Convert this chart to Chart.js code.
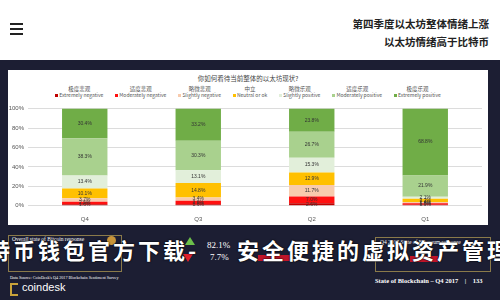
<!DOCTYPE html>
<html>
<head>
<meta charset="utf-8">
<script src="https://cdn.jsdelivr.net/npm/chart.js@4.4.1/dist/chart.umd.min.js"></script>
<style>
  html, body { margin: 0; padding: 0; }
  body {
    width: 500px; height: 300px; overflow: hidden; position: relative;
    background: #1c1e33; font-family: "Noto Sans CJK SC", "Liberation Sans", sans-serif;
  }
  .topbar { position: absolute; left: 0; top: 0; width: 500px; height: 60px; background: #fff; }
  .burger { position: absolute; left: 10px; top: 23px; width: 13px; }
  .burger div { height: 2px; background: #222; margin-bottom: 3px; }
  .headline {
    position: absolute; right: 11px; top: 15px; text-align: right;
    font-size: 10.5px; font-weight: 700; line-height: 18px; color: #222;
  }
  .panel { position: absolute; left: 8px; top: 70px; width: 480px; height: 155px; background: #fff; }
  .ctitle { position: absolute; left: 0; width: 480px; top: 3px; text-align: center; font-size: 6.5px; color: #444; }
  .legend { position: absolute; left: 0; width: 480px; top: 16px; display: flex; justify-content: center; gap: 12px; }
  .legend .item { text-align: center; font-size: 5px; color: #555; line-height: 6px; }
  .legend .cn { font-size: 5.5px; }
  .legend .sw { display: inline-block; width: 3px; height: 3px; margin-right: 1px; vertical-align: middle; }
  #chartBox { position: absolute; left: 8px; top: 101px; width: 480px; height: 124px; }
  .serif { font-family: "Liberation Serif", "DejaVu Serif", serif; color: #fff; position: absolute; }
  .box { position: absolute; border: 1px solid #8a7a4a; }
  .overlay {
    position: absolute; top: 233px; color: #fff; font-size: 22px; font-weight: 700;
    letter-spacing: 3px; white-space: nowrap; text-shadow: 0 0 2px #000, 0 0 1px #000;
  }
</style>
</head>
<body>
<div class="topbar">
  <div class="burger"><div></div><div></div><div></div></div>
  <div class="headline">第四季度以太坊整体情绪上涨<br>以太坊情绪高于比特币</div>
</div>

<div class="panel">
  <div class="ctitle">你如何看待当前整体的以太坊现状?</div>
  <div class="legend" id="legend"></div>
</div>
<div id="chartBox"><canvas id="chart"></canvas></div>

<!-- bottom slide furniture -->
<div class="box" style="left:8px;top:235px;width:112px;height:35px;"></div>
<div class="serif" style="left:12px;top:236px;font-size:5.5px;">Overall state of Bitcoin response</div>
<div style="position:absolute;left:107px;top:236px;width:9px;height:9px;border-radius:50%;background:#c8953a;"></div>
<div style="position:absolute;left:185px;top:237px;width:0;height:0;border-left:5px solid transparent;border-right:5px solid transparent;border-bottom:8px solid #6cbf4b;"></div>
<div style="position:absolute;left:183px;top:254px;width:0;height:0;border-left:5px solid transparent;border-right:5px solid transparent;border-top:8px solid #e0202a;"></div>
<div class="serif" style="left:207px;top:240px;font-size:9px;">82.1%</div>
<div class="serif" style="left:210px;top:252px;font-size:9px;">7.7%</div>
<div style="position:absolute;left:258px;top:255px;width:34px;height:6px;background:#c0152a;"></div>
<div class="box" style="left:375px;top:237px;width:114px;height:33px;"></div>
<div class="serif" style="left:380px;top:239px;font-size:5.5px;">Q4 2017 State of Ethereum response</div>
<div style="position:absolute;left:410px;top:256px;width:28px;height:6px;background:#c0152a;"></div>
<div class="serif" style="left:10px;top:275px;font-size:4.2px;">Data Source: CoinDesk's Q4 2017 Blockchain Sentiment Survey</div>
<div style="position:absolute;left:10px;top:283px;width:8px;height:13px;border:2px solid #c8a23a;border-right:none;box-sizing:border-box;"></div>
<div style="position:absolute;left:22px;top:281px;font-family:'Liberation Sans',sans-serif;font-size:11px;color:#fff;">coindesk</div>
<div class="serif" style="left:375px;top:277px;font-size:6.5px;font-weight:700;white-space:pre;">State of Blockchain – Q4 2017    |    133</div>

<div class="overlay" style="left:-12px;">特币钱包官方下载</div>
<div class="overlay" style="left:188px;">-</div>
<div class="overlay" style="left:237px;">安全便捷的虚拟资产管理</div>

<script>
// ---------- Data ----------
const quarters = ["Q4", "Q3", "Q2", "Q1"];

const seriesNames = [
  "Extremely negative", "Moderately negative", "Slightly negative", "Neutral or ok",
  "Slightly positive", "Moderately positive", "Extremely positive"
];
const seriesNamesCn = ["极度悲观", "适度悲观", "略微悲观", "中立", "略微乐观", "适度乐观", "极度乐观"];

// percent of responses, bottom of stack first
const extremelyNegative  = [1.6, 1.6, 2.6, 1.0];
const moderatelyNegative = [2.5, 3.6, 7.0, 1.6];
const slightlyNegative   = [3.7, 3.4, 11.7, 1.4];
const neutralOrOk        = [10.1, 14.8, 12.9, 3.2];
const slightlyPositive   = [13.4, 13.1, 15.3, 2.1];
const moderatelyPositive = [38.3, 30.3, 26.7, 21.9];
const extremelyPositive  = [30.4, 33.2, 23.8, 68.8];

const yTicks = [0, 20, 40, 60, 80, 100];

const seriesValues = [
  extremelyNegative, moderatelyNegative, slightlyNegative, neutralOrOk,
  slightlyPositive, moderatelyPositive, extremelyPositive
];
const seriesColors = ["#c00000", "#ff1010", "#f8cbad", "#ffc000", "#e2efda", "#a9d18e", "#70ad47"];

// ---------- Legend (html, two-line labels) ----------
const legendEl = document.getElementById("legend");
seriesNames.forEach((name, i) => {
  const item = document.createElement("div");
  item.className = "item";
  item.innerHTML = `<div class="cn">${seriesNamesCn[i]}</div>` +
    `<div><span class="sw" style="background:${seriesColors[i]}"></span>${name}</div>`;
  legendEl.appendChild(item);
});

// ---------- Value labels inside the bars ----------
const valueLabels = {
  id: "valueLabels",
  afterDatasetsDraw(chart) {
    const ctx = chart.ctx;
    ctx.save();
    ctx.font = '5px "Liberation Sans"';
    ctx.textAlign = "center";
    ctx.textBaseline = "middle";
    ctx.fillStyle = "#333";
    chart.data.datasets.forEach((ds, i) => {
      chart.getDatasetMeta(i).data.forEach((bar, j) => {
        ctx.fillText(ds.data[j].toFixed(1) + "%", bar.x, (bar.y + bar.base) / 2);
      });
    });
    ctx.restore();
  }
};

// ---------- Chart ----------
new Chart(document.getElementById("chart"), {
  type: "bar",
  data: {
    labels: quarters,
    datasets: seriesNames.map((name, i) => ({
      label: name,
      data: seriesValues[i],
      backgroundColor: seriesColors[i],
      borderWidth: 0,
      categoryPercentage: 1,
      barPercentage: 0.4
    }))
  },
  options: {
    responsive: true,
    maintainAspectRatio: false,
    animation: false,
    layout: { padding: { top: 5, right: 6, left: 0, bottom: 0 } },
    plugins: { legend: { display: false }, tooltip: { enabled: false } },
    scales: {
      x: {
        stacked: true,
        grid: { display: false },
        border: { display: false },
        ticks: { color: "#555", font: { size: 6 }, padding: 2 }
      },
      y: {
        stacked: true,
        min: 0, max: 100,
        afterBuildTicks: (axis) => { axis.ticks = yTicks.map((v) => ({ value: v })); },
        afterFit: (axis) => { axis.width = 20; },
        grid: { color: "#dcdcdc", drawTicks: false },
        border: { display: false },
        ticks: { color: "#555", font: { size: 6 }, padding: 4, callback: (v) => v + "%" }
      }
    }
  },
  plugins: [valueLabels]
});
</script>
</body>
</html>
